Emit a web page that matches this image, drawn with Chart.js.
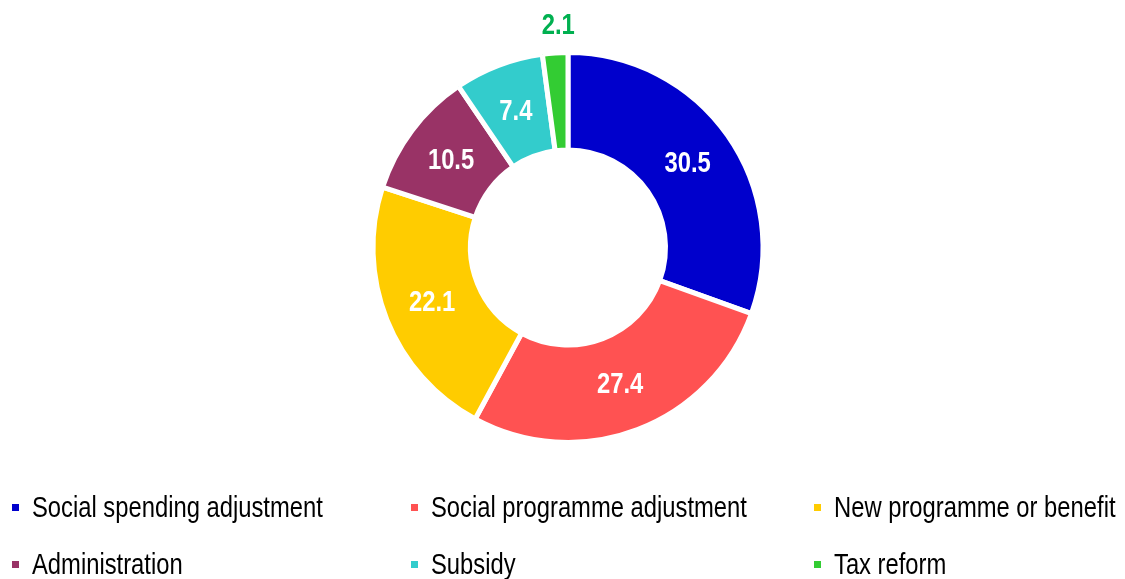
<!DOCTYPE html>
<html>
<head>
<meta charset="utf-8">
<script src="https://cdn.jsdelivr.net/npm/chart.js@4.4.1/dist/chart.umd.min.js"></script>
<style>
  body { margin: 0; background: #fff; width: 1125px; height: 579px; overflow: hidden; position: relative; }
  #chartBox { position: absolute; left: 0; top: 0; width: 1125px; height: 470px; }
  #legend { position: absolute; left: 0; top: 0; width: 1125px; height: 579px; pointer-events: none; }
  .item { position: absolute; }
  .txt { position: absolute; left: 0; top: 0; font-family: "Liberation Sans", Arial, sans-serif;
         font-size: 29px; color: #000; white-space: nowrap; line-height: 29px;
         transform: scaleX(0.82); transform-origin: 0 0; }
  .box { position: absolute; width: 7px; height: 7px; left: -20px; top: 11px; }
</style>
</head>
<body>
<div id="chartBox"><canvas id="myChart" width="1125" height="470"></canvas></div>
<div id="legend"></div>
<script>
// Chart data
const categories = ["Social spending adjustment", "Social programme adjustment", "New programme or benefit",
                    "Administration", "Subsidy", "Tax reform"];
const shares = [30.5, 27.4, 22.1, 10.5, 7.4, 2.1];
const colors = ["#0000CC", "#FF5252", "#FFCC00", "#993366", "#33CCCC", "#33CC33"];

// Draws the value labels; small slices get an outside green label
const valueLabels = {
  id: 'valueLabels',
  afterDatasetsDraw(chart) {
    const ctx = chart.ctx;
    const meta = chart.getDatasetMeta(0);
    meta.data.forEach((arc, i) => {
      const v = shares[i];
      const txt = v.toFixed(1);
      let x, y;
      if (v >= 5) {
        const p = arc.tooltipPosition();
        x = p.x; y = p.y + 1;
      } else {
        const mid = (arc.startAngle + arc.endAngle) / 2;
        const r = arc.outerRadius + 28;
        x = arc.x + Math.cos(mid) * r + 5;
        y = arc.y + Math.sin(mid) * r + 1;
      }
      ctx.save();
      ctx.translate(x, y);
      ctx.scale(0.82, 1); // narrow look
      ctx.font = 'bold 29px "Liberation Sans", Arial, sans-serif';
      ctx.textAlign = 'center';
      ctx.textBaseline = 'middle';
      ctx.fillStyle = v >= 5 ? '#ffffff' : '#00B050';
      ctx.fillText(txt, 0, 0);
      ctx.restore();
    });
  }
};

const ctx = document.getElementById('myChart').getContext('2d');
new Chart(ctx, {
  type: 'doughnut',
  data: {
    labels: categories,
    datasets: [{
      data: shares,
      backgroundColor: colors,
      borderColor: '#ffffff',
      borderWidth: 5
    }]
  },
  options: {
    responsive: false,
    animation: false,
    cutout: '50%',
    layout: { padding: { top: 50, bottom: 25, left: 11 } },
    plugins: {
      legend: { display: false },
      tooltip: { enabled: false }
    }
  },
  plugins: [valueLabels]
});

// Legend in three columns, two rows
const legendX = [32, 431, 834];
const legendY = [493, 550];
const legend = document.getElementById('legend');
categories.forEach((name, i) => {
  const el = document.createElement('div');
  el.className = 'item';
  el.style.left = legendX[i % 3] + 'px';
  el.style.top = legendY[Math.floor(i / 3)] + 'px';
  const box = document.createElement('span');
  box.className = 'box';
  box.style.background = colors[i];
  const t = document.createElement('span');
  t.className = 'txt';
  t.textContent = name;
  el.appendChild(box);
  el.appendChild(t);
  legend.appendChild(el);
});
</script>
</body>
</html>
